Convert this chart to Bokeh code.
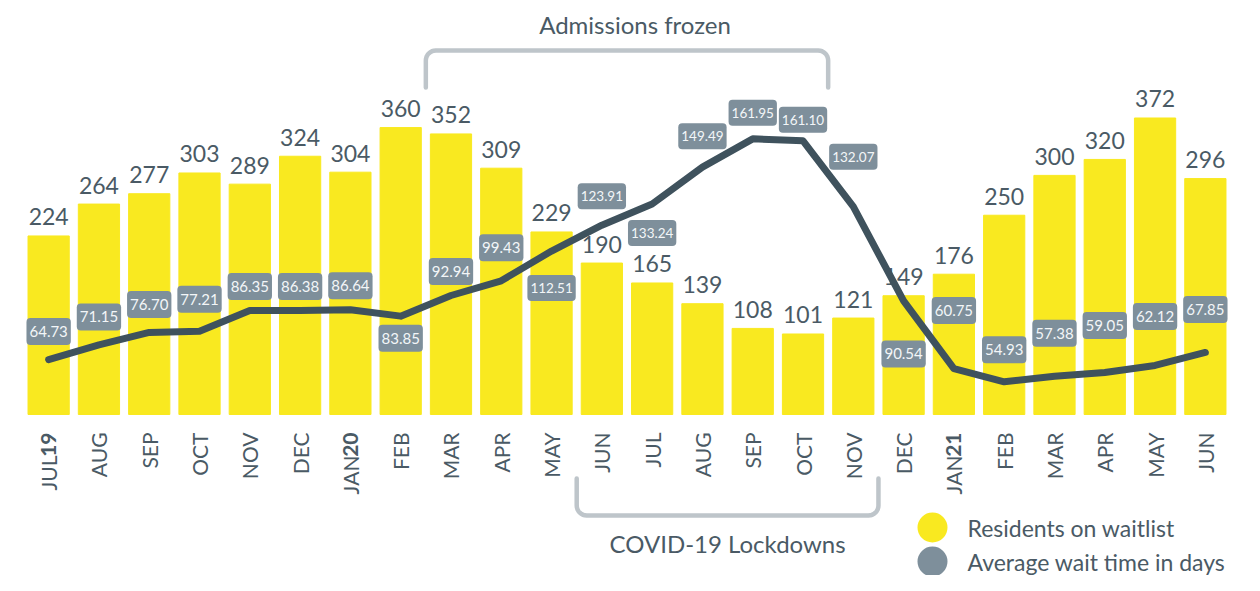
import math
from bokeh.plotting import figure
from bokeh.models import ColumnDataSource, FactorRange, Range1d
from bokeh.embed import file_html
from bokeh.resources import INLINE
from bokeh.core.properties import value

# ---------------- data ----------------
months = ["Jul 2019", "Aug 2019", "Sep 2019", "Oct 2019", "Nov 2019", "Dec 2019",
          "Jan 2020", "Feb 2020", "Mar 2020", "Apr 2020", "May 2020", "Jun 2020",
          "Jul 2020", "Aug 2020", "Sep 2020", "Oct 2020", "Nov 2020", "Dec 2020",
          "Jan 2021", "Feb 2021", "Mar 2021", "Apr 2021", "May 2021", "Jun 2021"]
month_labels = ["JUL", "AUG", "SEP", "OCT", "NOV", "DEC", "JAN", "FEB", "MAR", "APR", "MAY", "JUN",
                "JUL", "AUG", "SEP", "OCT", "NOV", "DEC", "JAN", "FEB", "MAR", "APR", "MAY", "JUN"]
year_labels = ["19", "", "", "", "", "", "20", "", "", "", "", "",
               "", "", "", "", "", "", "21", "", "", "", "", ""]
residents = [224, 264, 277, 303, 289, 324, 304, 360, 352, 309, 229, 190,
             165, 139, 108, 101, 121, 149, 176, 250, 300, 320, 372, 296]
wait_days = [64.73, 71.15, 76.70, 77.21, 86.35, 86.38, 86.64, 83.85, 92.94, 99.43, 112.51, 123.91,
             133.24, 149.49, 161.95, 161.10, 132.07, 90.54, 60.75, 54.93, 57.38, 59.05, 62.12, 67.85]
admissions_frozen = ("Mar 2020", "Oct 2020")
covid_lockdowns = ("Jun 2020", "Nov 2020")
legend_labels = ["Residents on waitlist", "Average wait time in days"]

# ---------------- style ----------------
FONT = "Lato"
YELLOW = "#F9E920"
LINE = "#3F525D"
BOX = "#7E8F9B"
TEXT = "#4A5A65"
BRACKET = "#BEC5CA"
label_dy = [-28, -28, -28, -32, -24, -24, -24, 22, -24, -33, 37, -29,
            29, -31, -26, -21, -50, 53, -58, -32, -43, -47, -49, -43]

W, H = 1244, 575
ML, MR = 23, 14
step = (W - ML - MR) / len(months)
YEAR_W = 23
AXIS_GAP = 18


def px_x(fig_x):
    """figure-pixel x -> synthetic categorical coordinate"""
    return (fig_x - ML) / step


wait_txt = ["%.2f" % v for v in wait_days]
src = ColumnDataSource(dict(
    month=months,
    residents=residents,
    res_txt=[str(v) for v in residents],
    wait=wait_days,
    wait_txt=wait_txt,
    box_fs=["15px" if len(t) <= 5 else "13.5px" for t in wait_txt],
    dy=label_dy,
    mon=month_labels,
    year=year_labels,
    mon_off=[AXIS_GAP + (YEAR_W if y else 0) for y in year_labels],
))

p = figure(width=W, height=H, x_range=FactorRange(*months),
           y_range=Range1d(-202.0, 519.4),
           output_backend="svg", toolbar_location=None,
           x_axis_location=None, y_axis_location=None,
           min_border_left=ML, min_border_right=MR, min_border_top=0, min_border_bottom=0)
p.extra_y_ranges = {"wait": Range1d(-30.4, 222.9), "px": Range1d(H, 0)}
p.grid.visible = False
p.outline_line_color = None

# bars
p.vbar(x="month", top="residents", width=0.82, color=YELLOW, source=src)
# bar values
p.text(x="month", y="residents", text="res_txt", source=src, y_offset=-19,
       text_align="center", text_baseline="middle",
       text_font=value(FONT), text_font_size="23px", text_color=TEXT)
# line
p.line(x="month", y="wait", y_range_name="wait", source=src, line_width=7,
       line_color=LINE, line_cap="round", line_join="round")
# boxed wait labels
p.text(x="month", y="wait", y_range_name="wait", text="wait_txt", source=src,
       y_offset="dy", text_align="center", text_baseline="middle",
       text_font=value(FONT), text_font_size="box_fs", text_color="#F3F6F8",
       background_fill_color=BOX, border_radius=4,
       padding=dict(left=3, right=3, top=8, bottom=8))

# category labels (rotated), year part in bold
p.text(x="month", y=0, text="mon", source=src, angle=math.pi / 2, y_offset="mon_off",
       text_align="right", text_baseline="middle",
       text_font=value(FONT), text_font_size="21px", text_color=TEXT)
p.text(x="month", y=0, text="year", source=src, angle=math.pi / 2, y_offset=AXIS_GAP,
       text_align="right", text_baseline="middle", text_font_style="bold",
       text_font=value(FONT), text_font_size="21px", text_color=TEXT)


def bracket(first, last, y_flat, y_end, r=10, n=8):
    x0 = months.index(first)
    x1 = months.index(last) + 1
    rx = r / step
    sgn = 1 if y_end > y_flat else -1
    xs, ys = [x0], [y_end]
    for k in range(n + 1):
        a = math.pi / 2 * k / n
        xs.append(x0 + rx - rx * math.cos(a))
        ys.append(y_flat + sgn * (r - r * math.sin(a)))
    for k in range(n + 1):
        a = math.pi / 2 * k / n
        xs.append(x1 - rx + rx * math.sin(a))
        ys.append(y_flat + sgn * (r - r * math.cos(a)))
    xs.append(x1)
    ys.append(y_end)
    p.line(x=xs, y=ys, y_range_name="px", line_color=BRACKET, line_width=4.5,
           line_cap="round", line_join="round")
    return (x0 + x1) / 2


cx = bracket(*admissions_frozen, y_flat=50, y_end=87)
p.text(x=[cx + 0.16], y=[24], y_range_name="px", text=["Admissions frozen"],
       text_align="center", text_baseline="middle",
       text_font=value(FONT), text_font_size="24px", text_color=TEXT)
cx = bracket(*covid_lockdowns, y_flat=515, y_end=478)
p.text(x=[cx], y=[543], y_range_name="px", text=["COVID-19 Lockdowns"],
       text_align="center", text_baseline="middle",
       text_font=value(FONT), text_font_size="24px", text_color=TEXT)

# legend
p.scatter(x=[px_x(932)] * 2, y=[527, 561], y_range_name="px",
          size=30, marker="circle", fill_color=[YELLOW, BOX], line_color=None)
p.text(x=[px_x(967)] * 2, y=[527, 561], y_range_name="px",
       text=legend_labels, text_align="left", text_baseline="middle",
       text_font=value(FONT), text_font_size="23px", text_color=TEXT)

open("out.html", "w").write(file_html(p, INLINE))
